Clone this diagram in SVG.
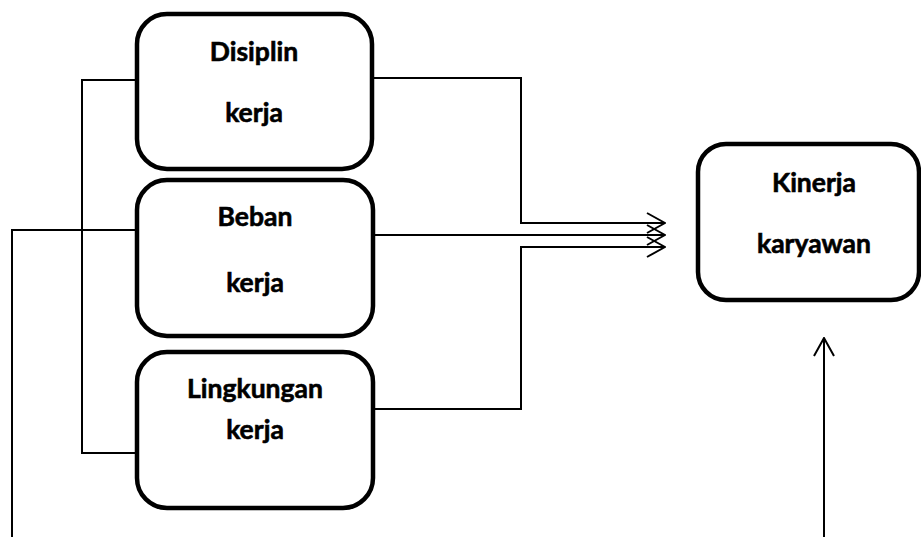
<svg xmlns="http://www.w3.org/2000/svg" width="921" height="537" viewBox="0 0 921 537">
<style>
.box{fill:#fff;stroke:#000;stroke-width:4.5}
.lbl{font-family:"Lato","Open Sans","Liberation Sans",sans-serif;font-weight:bold;font-size:26.5px;fill:#000;stroke:#000;stroke-width:0.6;text-anchor:middle}
.con{fill:none;stroke:#000;stroke-width:2}
</style>
<defs>
<marker id="arr" viewBox="0 0 20 24" refX="19" refY="12" markerWidth="20" markerHeight="24" markerUnits="userSpaceOnUse" orient="auto">
<path d="M1,2 L19,12 L1,22" fill="none" stroke="#000" stroke-width="2"/>
</marker>
</defs>
<g id="connectors">
<polyline class="con" points="373,78 521,78 521,223 665,223" marker-end="url(#arr)"/>
<polyline class="con" points="373,235 665,235" marker-end="url(#arr)"/>
<polyline class="con" points="373,409 521,409 521,247 665,247" marker-end="url(#arr)"/>
<polyline class="con" points="136,80 82,80 82,453 136,453"/>
<polyline class="con" points="12,537 12,230 136,230"/>
<line class="con" x1="824" y1="537" x2="824" y2="338" marker-end="url(#arr)"/>
</g>
<g id="disiplin">
<rect class="box" x="137" y="14" width="235" height="155" rx="30"/>
<text class="lbl" x="254" y="61">Disiplin</text>
<text class="lbl" x="254" y="122">kerja</text>
</g>
<g id="beban">
<rect class="box" x="137" y="180" width="236" height="156" rx="30"/>
<text class="lbl" x="255" y="226">Beban</text>
<text class="lbl" x="255" y="292">kerja</text>
</g>
<g id="lingkungan">
<rect class="box" x="137" y="352" width="236" height="156" rx="30"/>
<text class="lbl" x="255" y="398">Lingkungan</text>
<text class="lbl" x="255" y="439">kerja</text>
</g>
<g id="kinerja">
<rect class="box" x="698" y="144" width="221" height="156" rx="28"/>
<text class="lbl" x="814" y="192">Kinerja</text>
<text class="lbl" x="814" y="253">karyawan</text>
</g>
</svg>
